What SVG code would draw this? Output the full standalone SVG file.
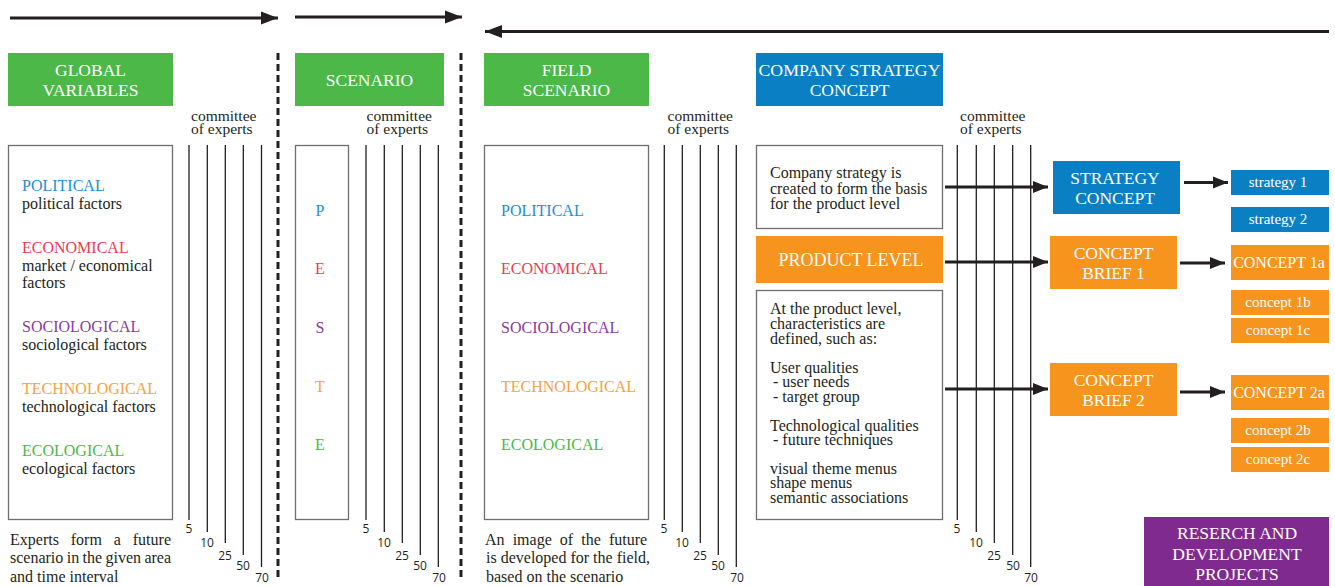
<svg xmlns="http://www.w3.org/2000/svg" width="1335" height="586" viewBox="0 0 1335 586">
<defs>
<marker id="ah" markerUnits="userSpaceOnUse" markerWidth="17" markerHeight="14" refX="17" refY="7" orient="auto">
<path d="M0,0.5 L17,7 L0,13.5 z" fill="#231f20"/>
</marker>
<marker id="ahs" markerUnits="userSpaceOnUse" markerWidth="15" markerHeight="13" refX="15" refY="6.5" orient="auto">
<path d="M0,0.5 L15,6.5 L0,12.5 z" fill="#231f20"/>
</marker>
<style>
.t{font-family:"Liberation Serif","Times New Roman",serif;fill:#231f20;font-size:16px}
.c{font-size:15.5px}
.w{font-family:"Liberation Serif","Times New Roman",serif;fill:#fff;text-anchor:middle}
.h{font-size:17.5px}
.n{font-family:"Open Sans","DejaVu Sans",sans-serif;font-size:12px;fill:#231f20;text-anchor:middle}
.box{fill:#fff;stroke:#6d6e71;stroke-width:1.3}
.vl{stroke:#231f20;stroke-width:1.3}
.dash{stroke:#231f20;stroke-width:3;stroke-dasharray:7 4}
.ar{stroke:#231f20;stroke-width:3;fill:none}
.g{fill:#4cb848}.b{fill:#0a7fc4}.o{fill:#f7941d}.p{fill:#7f2a8e}
.cP{fill:#1f8dd6}.cE{fill:#ed3b4f}.cS{fill:#8a3ca0}.cT{fill:#f8a13d}.cG{fill:#4cb848}
</style>
</defs>

<g id="connectors">
<line class="ar" x1="10" y1="18" x2="278" y2="18" marker-end="url(#ah)"/>
<line class="ar" x1="295" y1="17" x2="462" y2="17" marker-end="url(#ah)"/>
<line class="ar" x1="1329" y1="31.5" x2="485" y2="31.5" marker-end="url(#ah)"/>
<line class="dash" x1="278" y1="53" x2="278" y2="580"/>
<line class="dash" x1="461" y1="53" x2="461" y2="580"/>
<line class="ar" x1="945" y1="187" x2="1048" y2="187" marker-end="url(#ahs)"/>
<line class="ar" x1="945" y1="262" x2="1048" y2="262" marker-end="url(#ahs)"/>
<line class="ar" x1="945" y1="389" x2="1048" y2="389" marker-end="url(#ahs)"/>
<line class="ar" x1="1184" y1="182.5" x2="1228" y2="182.5" marker-end="url(#ahs)"/>
<line class="ar" x1="1180" y1="263" x2="1225" y2="263" marker-end="url(#ahs)"/>
<line class="ar" x1="1180" y1="392" x2="1225" y2="392" marker-end="url(#ahs)"/>
</g>

<g id="experts1">
<text class="t c" x="191" y="120.5">committee</text>
<text class="t c" x="191" y="134">of experts</text>
<line class="vl" x1="189" y1="145" x2="189" y2="520"/>
<line class="vl" x1="207.3" y1="145" x2="207.3" y2="532"/>
<line class="vl" x1="225.3" y1="145" x2="225.3" y2="543"/>
<line class="vl" x1="243.3" y1="145" x2="243.3" y2="555"/>
<line class="vl" x1="261.5" y1="145" x2="261.5" y2="567"/>
<text class="n" x="189" y="533">5</text>
<text class="n" x="207" y="547">10</text>
<text class="n" x="225" y="560">25</text>
<text class="n" x="243" y="570">50</text>
<text class="n" x="262" y="582">70</text>
</g>
<g id="experts2">
<text class="t c" x="366.5" y="120.5">committee</text>
<text class="t c" x="366.5" y="134">of experts</text>
<line class="vl" x1="366" y1="145" x2="366" y2="520"/>
<line class="vl" x1="384.3" y1="145" x2="384.3" y2="532"/>
<line class="vl" x1="402.3" y1="145" x2="402.3" y2="543"/>
<line class="vl" x1="420.3" y1="145" x2="420.3" y2="555"/>
<line class="vl" x1="438.3" y1="145" x2="438.3" y2="567"/>
<text class="n" x="366" y="533">5</text>
<text class="n" x="384" y="547">10</text>
<text class="n" x="402" y="560">25</text>
<text class="n" x="420" y="570">50</text>
<text class="n" x="439" y="582">70</text>
</g>
<g id="experts3">
<text class="t c" x="667.5" y="120.5">committee</text>
<text class="t c" x="667.5" y="134">of experts</text>
<line class="vl" x1="664.3" y1="145" x2="664.3" y2="520"/>
<line class="vl" x1="682.3" y1="145" x2="682.3" y2="532"/>
<line class="vl" x1="700.3" y1="145" x2="700.3" y2="543"/>
<line class="vl" x1="718.3" y1="145" x2="718.3" y2="555"/>
<line class="vl" x1="736.3" y1="145" x2="736.3" y2="567"/>
<text class="n" x="664" y="533">5</text>
<text class="n" x="682" y="547">10</text>
<text class="n" x="700" y="560">25</text>
<text class="n" x="718" y="570">50</text>
<text class="n" x="737" y="582">70</text>
</g>
<g id="experts4">
<text class="t c" x="960" y="120.5">committee</text>
<text class="t c" x="960" y="134">of experts</text>
<line class="vl" x1="957.3" y1="145" x2="957.3" y2="520"/>
<line class="vl" x1="976.3" y1="145" x2="976.3" y2="532"/>
<line class="vl" x1="994.3" y1="145" x2="994.3" y2="543"/>
<line class="vl" x1="1012.7" y1="145" x2="1012.7" y2="555"/>
<line class="vl" x1="1030.7" y1="145" x2="1030.7" y2="567"/>
<text class="n" x="957" y="533">5</text>
<text class="n" x="976" y="547">10</text>
<text class="n" x="994" y="560">25</text>
<text class="n" x="1013" y="570">50</text>
<text class="n" x="1031" y="582">70</text>
</g>

<g id="global-variables">
<rect class="g" x="8" y="53" width="165" height="53"/>
<text class="w h" x="90.5" y="76">GLOBAL</text>
<text class="w h" x="90.5" y="96">VARIABLES</text>
</g>
<g id="scenario">
<rect class="g" x="295" y="53" width="149" height="53"/>
<text class="w h" x="369.5" y="86">SCENARIO</text>
</g>
<g id="field-scenario">
<rect class="g" x="484" y="53" width="165" height="53"/>
<text class="w h" x="566.5" y="76">FIELD</text>
<text class="w h" x="566.5" y="96">SCENARIO</text>
</g>
<g id="company-strategy-concept">
<rect class="b" x="756" y="53" width="187" height="53"/>
<text class="w h" x="849.5" y="76" textLength="182" lengthAdjust="spacingAndGlyphs">COMPANY STRATEGY</text>
<text class="w h" x="849.5" y="96">CONCEPT</text>
</g>

<g id="global-box">
<rect class="box" x="8.5" y="145.5" width="164" height="374"/>
<text class="t cP" x="22" y="191">POLITICAL</text>
<text class="t" x="22" y="209">political factors</text>
<text class="t cE" x="22" y="253">ECONOMICAL</text>
<text class="t" x="22" y="271">market / economical</text>
<text class="t" x="22" y="288">factors</text>
<text class="t cS" x="22" y="332">SOCIOLOGICAL</text>
<text class="t" x="22" y="350">sociological factors</text>
<text class="t cT" x="22" y="394">TECHNOLOGICAL</text>
<text class="t" x="22" y="412">technological factors</text>
<text class="t cG" x="22" y="456">ECOLOGICAL</text>
<text class="t" x="22" y="474">ecological factors</text>
</g>
<g id="global-note">
<text class="t" x="10" y="545" word-spacing="7.9">Experts form a future</text>
<text class="t" x="10" y="563" word-spacing="-0.6">scenario in the given area</text>
<text class="t" x="10" y="582">and time interval</text>
</g>

<g id="scenario-box">
<rect class="box" x="295.5" y="145.5" width="53" height="374"/>
<text class="t cP" x="320" y="216" text-anchor="middle">P</text>
<text class="t cE" x="320" y="274" text-anchor="middle">E</text>
<text class="t cS" x="320" y="333" text-anchor="middle">S</text>
<text class="t cT" x="320" y="392" text-anchor="middle">T</text>
<text class="t cG" x="320" y="450" text-anchor="middle">E</text>
</g>

<g id="field-box">
<rect class="box" x="484.5" y="145.5" width="164" height="374"/>
<text class="t cP" x="501" y="216">POLITICAL</text>
<text class="t cE" x="501" y="274">ECONOMICAL</text>
<text class="t cS" x="501" y="333">SOCIOLOGICAL</text>
<text class="t cT" x="501" y="392">TECHNOLOGICAL</text>
<text class="t cG" x="501" y="450">ECOLOGICAL</text>
</g>
<g id="field-note">
<text class="t" x="485" y="545" word-spacing="4.1">An image of the future</text>
<text class="t" x="486" y="563">is developed for the field,</text>
<text class="t" x="486" y="582">based on the scenario</text>
</g>

<g id="strategy-text">
<rect class="box" x="756.5" y="145.5" width="186" height="83"/>
<text class="t" x="770" y="178">Company strategy is</text>
<text class="t" x="770" y="193.5">created to form the basis</text>
<text class="t" x="770" y="209">for the product level</text>
</g>
<g id="product-level">
<rect class="o" x="756" y="236" width="187" height="47"/>
<text class="w" style="font-size:18px" x="851" y="266">PRODUCT LEVEL</text>
</g>
<g id="product-text">
<rect class="box" x="756.5" y="290.5" width="186" height="229"/>
<text class="t" x="770" y="314">At the product level,</text>
<text class="t" x="770" y="329">characteristics are</text>
<text class="t" x="770" y="343.5">defined, such as:</text>
<text class="t" x="770" y="373">User qualities</text>
<text class="t" x="773" y="387">- user needs</text>
<text class="t" x="773" y="402">- target group</text>
<text class="t" x="770" y="431">Technological qualities</text>
<text class="t" x="773" y="445">- future techniques</text>
<text class="t" x="770" y="474">visual theme menus</text>
<text class="t" x="770" y="488">shape menus</text>
<text class="t" x="770" y="503">semantic associations</text>
</g>

<g id="strategy-concept">
<rect class="b" x="1053" y="161" width="127" height="53"/>
<text class="w h" x="1115" y="184">STRATEGY</text>
<text class="w h" x="1115" y="204">CONCEPT</text>
</g>
<g id="concept-brief-1">
<rect class="o" x="1050" y="236" width="127" height="53"/>
<text class="w h" x="1113.5" y="259">CONCEPT</text>
<text class="w h" x="1113.5" y="279">BRIEF 1</text>
</g>
<g id="concept-brief-2">
<rect class="o" x="1050" y="363" width="127" height="53"/>
<text class="w h" x="1113.5" y="386">CONCEPT</text>
<text class="w h" x="1113.5" y="406">BRIEF 2</text>
</g>

<g id="strategy-1"><rect class="b" x="1231" y="170" width="98" height="25"/><text class="w" style="font-size:15px" x="1278" y="187">strategy 1</text></g>
<g id="strategy-2"><rect class="b" x="1231" y="207" width="98" height="25"/><text class="w" style="font-size:15px" x="1278" y="224">strategy 2</text></g>
<g id="concept-1a"><rect class="o" x="1231" y="245" width="98" height="35"/><text class="w" style="font-size:16px" x="1279" y="268">CONCEPT 1a</text></g>
<g id="concept-1b"><rect class="o" x="1231" y="290" width="98" height="25"/><text class="w" style="font-size:15px" x="1278" y="307">concept 1b</text></g>
<g id="concept-1c"><rect class="o" x="1231" y="318" width="98" height="25"/><text class="w" style="font-size:15px" x="1278" y="335">concept 1c</text></g>
<g id="concept-2a"><rect class="o" x="1231" y="375" width="98" height="35"/><text class="w" style="font-size:16px" x="1279" y="398">CONCEPT 2a</text></g>
<g id="concept-2b"><rect class="o" x="1231" y="418" width="98" height="25"/><text class="w" style="font-size:15px" x="1278" y="435">concept 2b</text></g>
<g id="concept-2c"><rect class="o" x="1231" y="447" width="98" height="25"/><text class="w" style="font-size:15px" x="1278" y="464">concept 2c</text></g>

<g id="research">
<rect class="p" x="1144" y="517" width="185" height="69"/>
<text class="w" style="font-size:17.5px" x="1237" y="539">RESERCH AND</text>
<text class="w" style="font-size:17.5px" x="1237" y="559.5">DEVELOPMENT</text>
<text class="w" style="font-size:17.5px" x="1237" y="580">PROJECTS</text>
</g>
</svg>
